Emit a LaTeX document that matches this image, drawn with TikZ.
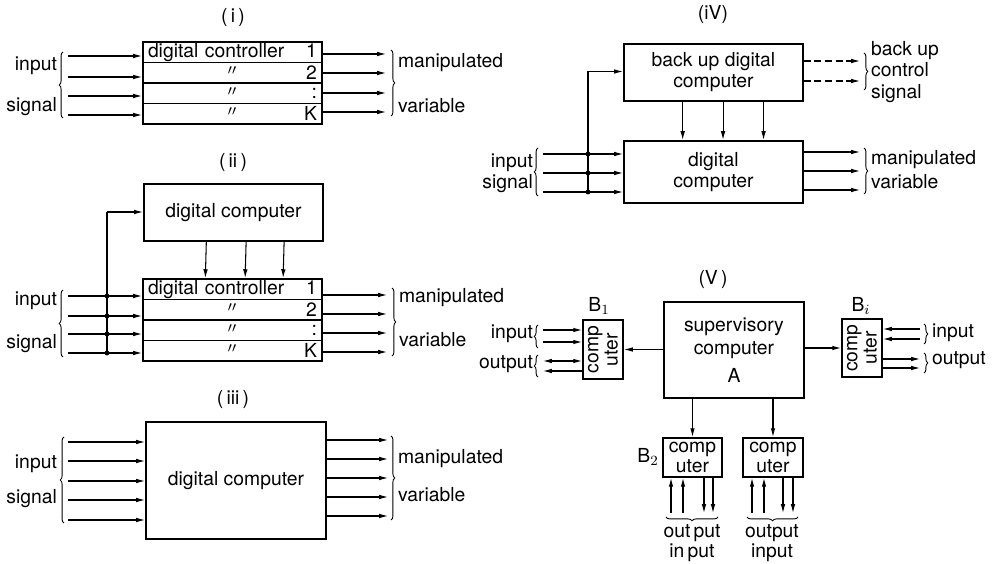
\documentclass[tikz,border=0pt]{standalone}
\usepackage{fontspec}
\setmainfont{TeX Gyre Heros}
\usetikzlibrary{arrows.meta, positioning, fit, calc, decorations.pathreplacing}

\begin{document}
\begin{tikzpicture}[
    x=0.02cm,
    y=-0.02cm,
    font=\fontsize{11}{13}\selectfont,
    quadro/.style={
        draw,
        line width=1.1pt,
        inner sep=0pt,
        align=center
    },
    linha/.style={
        draw,
        line width=0.6pt,
        outer sep=0pt,
        minimum width=3.58cm,
        minimum height=0.41cm,
        text width=3.38cm,
        inner xsep=0.1cm,
        inner ysep=0pt
    },
    seta/.style={
        line width=0.6pt,
        -{Latex[length=5pt, width=2.6pt]}
    },
    setavolta/.style={
        line width=0.6pt,
        {Latex[length=5pt, width=2.6pt]}-
    },
    setadupla/.style={
        line width=0.6pt,
        {Latex[length=5pt, width=2.6pt]}-{Latex[length=5pt, width=2.6pt]}
    },
    tracejada/.style={
        seta,
        dash pattern=on 4pt off 2pt
    },
    fio/.style={
        line width=0.6pt
    },
    chave/.style={
        decorate,
        decoration={brace, amplitude=2.2pt},
        line width=0.5pt
    },
    rotulo/.style={
        inner sep=1pt
    },
    aspas/.style={
        inner sep=0pt,
        yshift=-1pt
    }
]

\useasboundingbox (0,0) rectangle (992,564);

% ---------------- (i) ----------------

\node[rotulo] (tituloA) at (233,18) {(\,i\,)};

\node[
    linha,
    anchor=north west
] (a1) at (143,42)
{digital controller\hfill 1};
\node[linha, below=0pt of a1] (a2) {\hspace*{\fill}2};
\node[linha, below=0pt of a2] (a3) {\hspace*{\fill}:};
\node[linha, below=0pt of a3] (a4) {\hspace*{\fill}K};
\node[quadro, fit=(a1)(a4)] (ctrlA) {};
\foreach \r in {2,3,4}
    \node[aspas] at (a\r.center) {$''$};

\foreach \y [count=\i] in {56,77,96,115} {
    \coordinate (ea\i) at (68,\y);
    \draw[seta] (ea\i) -- (ea\i -| ctrlA.west);
}
\foreach \y [count=\i] in {54,73,93,112} {
    \coordinate (sa\i) at (386,\y);
    \draw[seta] (sa\i -| ctrlA.east) -- (sa\i);
}

\draw[chave] (63,118) -- (63,52);
\draw[chave] (391,50) -- (391,116);
\node[rotulo, anchor=east] (inA) at (59,66) {input};
\node[rotulo, anchor=east] (sigA) at (59,107) {signal};
\node[rotulo, anchor=west] (manA) at (396,63) {manipulated};
\node[rotulo, anchor=west] (varA) at (396,106) {variable};

% ---------------- (ii) ----------------

\node[rotulo] (tituloB) at (233,163) {(\,ii\,)};

\node[
    quadro,
    minimum width=3.58cm,
    minimum height=1.14cm,
    anchor=north west
] (dcB) at (143,183)
{digital computer};

\node[
    linha,
    anchor=north west
] (b1) at (143,279)
{digital controller\hfill 1};
\node[linha, below=0pt of b1] (b2) {\hspace*{\fill}2};
\node[linha, below=0pt of b2] (b3) {\hspace*{\fill}:};
\node[linha, below=0pt of b3] (b4) {\hspace*{\fill}K};
\node[quadro, fit=(b1)(b4)] (ctrlB) {};
\foreach \r in {2,3,4}
    \node[aspas] at (b\r.center) {$''$};

\foreach \f in {0.35,0.57,0.78}
    \draw[seta] ($(dcB.south west)!\f!(dcB.south east)$) -- ($(ctrlB.north west)!\f!(ctrlB.north east)$);

\coordinate (fb) at (107,212);
\draw[seta] (fb) -- (fb -| dcB.west);
\foreach \y [count=\i] in {296,316,334,353} {
    \coordinate (eb\i) at (68,\y);
    \coordinate (pb\i) at (107,\y);
    \draw[seta] (eb\i) -- (eb\i -| ctrlB.west);
    \fill (pb\i) circle (1.4pt);
}
\draw[fio] (fb) -- (pb4);
\foreach \y [count=\i] in {295,314,333,352} {
    \coordinate (sb\i) at (387,\y);
    \draw[seta] (sb\i -| ctrlB.east) -- (sb\i);
}

\draw[chave] (63,357) -- (63,290);
\draw[chave] (392,288) -- (392,356);
\node[rotulo, anchor=east] (inB) at (59,301) {input};
\node[rotulo, anchor=east] (sigB) at (59,344) {signal};
\node[rotulo, anchor=west] (manB) at (397,298) {manipulated};
\node[rotulo, anchor=west] (varB) at (397,340) {variable};

% ---------------- (iii) ----------------

\node[rotulo] (tituloC) at (233,400) {(\,iii\,)};

\node[
    quadro,
    minimum width=3.6cm,
    minimum height=2.34cm,
    anchor=north west
] (dcC) at (145,421)
{digital computer};

\foreach \y [count=\i] in {442,461,481,500,520} {
    \coordinate (ec\i) at (68,\y);
    \draw[seta] (ec\i) -- (ec\i -| dcC.west);
}
\foreach \y [count=\i] in {440,459,478,497,516} {
    \coordinate (sc\i) at (388,\y);
    \draw[seta] (sc\i -| dcC.east) -- (sc\i);
}

\draw[chave] (64,523) -- (64,437);
\draw[chave] (391,436) -- (391,520);
\node[rotulo, anchor=east] (inC) at (59,464) {input};
\node[rotulo, anchor=east] (sigC) at (59,499) {signal};
\node[rotulo, anchor=west] (manC) at (396,459) {manipulated};
\node[rotulo, anchor=west] (varC) at (396,495) {variable};

% ---------------- (iV) ----------------

\node[rotulo] (tituloD) at (713,15) {(iV)};

\node[
    quadro,
    minimum width=3.58cm,
    minimum height=1.14cm,
    font=\fontsize{11}{12}\selectfont,
    anchor=north west
] (bkD) at (623,43)
{back up digital\\computer};

\node[
    quadro,
    minimum width=3.58cm,
    minimum height=1.24cm,
    font=\fontsize{11}{12}\selectfont,
    anchor=north west
] (dcD) at (623,140)
{digital\\computer};

\foreach \f in {0.33,0.553,0.777}
    \draw[seta] ($(bkD.south west)!\f!(bkD.south east)$) -- ($(dcD.north west)!\f!(dcD.north east)$);

\coordinate (fd) at (588,71.5);
\draw[seta] (fd) -- (fd -| bkD.west);
\foreach \y [count=\i] in {154,173,192} {
    \coordinate (ed\i) at (543,\y);
    \coordinate (pd\i) at (588,\y);
    \draw[seta] (ed\i) -- (ed\i -| dcD.west);
    \fill (pd\i) circle (1.4pt);
}
\draw[fio] (fd) -- (pd3);
\foreach \y [count=\i] in {152,171,190} {
    \coordinate (sd\i) at (860,\y);
    \draw[seta] (sd\i -| dcD.east) -- (sd\i);
}
\foreach \y [count=\i] in {61,81} {
    \coordinate (td\i) at (860,\y);
    \draw[tracejada] (td\i -| bkD.east) -- (td\i);
}

\draw[chave] (538,196) -- (538,148);
\draw[chave] (864,148) -- (864,194);
\draw[chave] (864,53) -- (864,90);
\node[rotulo, anchor=east] (inD) at (535,163) {input};
\node[rotulo, anchor=east] (sigD) at (535,184) {signal};
\node[rotulo, anchor=west] (manD) at (869,160) {manipulated};
\node[rotulo, anchor=west] (varD) at (869,182) {variable};
\node[
    rotulo,
    anchor=west,
    align=left,
    font=\fontsize{11}{12}\selectfont
] (bkcD) at (869,72)
{back up\\control\\signal};

% ---------------- (V) ----------------

\node[rotulo] (tituloE) at (713,280) {(V\,)};

\node[
    quadro,
    minimum width=2.8cm,
    minimum height=1.92cm,
    anchor=north west
] (sup) at (663,301)
{supervisory\\computer\\[3pt]A};

% rotated boxes: north = left side, south = right side
\node[
    quadro,
    rotate=90,
    minimum width=1.18cm,
    minimum height=0.8cm,
    font=\fontsize{11}{11}\selectfont
] (B1) at (603,349.5)
{comp\\uter};
\node[rotulo] (labB1) at (599,306) {B$_1$};

\node[
    quadro,
    rotate=90,
    minimum width=1.16cm,
    minimum height=0.8cm,
    font=\fontsize{11}{11}\selectfont
] (Bi) at (862,348)
{comp\\uter};
\node[rotulo] (labBi) at (861,306) {B$_i$};

\node[
    quadro,
    minimum width=1.18cm,
    minimum height=0.78cm,
    font=\fontsize{11}{11}\selectfont
] (B2) at (692.5,457.5)
{comp\\uter};
\node[rotulo] (labB2) at (648,457) {B$_2$};

\node[
    quadro,
    minimum width=1.2cm,
    minimum height=0.78cm,
    font=\fontsize{11}{11}\selectfont
] (B3) at (773,457.5)
{comp\\uter};

\draw[seta] (sup.west |- B1.south) -- (B1.south);
\draw[seta] (sup.east |- Bi.north) -- (Bi.north);
\draw[seta] (B2.north |- sup.south) -- (B2.north);
\draw[seta] (B3.north |- sup.south) -- (B3.north);

% B1
\coordinate (e1a) at (543,330);
\coordinate (e1b) at (543,342);
\coordinate (s1a) at (543,361);
\coordinate (s1b) at (543,371);
\draw[seta] (e1a) -- (e1a -| B1.north);
\draw[seta] (e1b) -- (e1b -| B1.north);
\draw[setadupla] (s1a) -- (s1a -| B1.north);
\draw[setavolta] (s1b) -- (s1b -| B1.north);
\draw[chave] (538,348) -- (538,325);
\draw[chave] (538,377) -- (538,355);
\node[rotulo, anchor=east] (inE1) at (535,334) {input};
\node[rotulo, anchor=east] (outE1) at (535,364) {output};

% Bi
\foreach \y [count=\i] in {329,339} {
    \coordinate (eiE\i) at (920,\y);
    \draw[seta] (eiE\i) -- (eiE\i -| Bi.south);
}
\foreach \y [count=\i] in {359,368} {
    \coordinate (siE\i) at (920,\y);
    \draw[seta] (siE\i -| Bi.south) -- (siE\i);
}
\draw[chave] (924,324) -- (924,344);
\draw[chave] (924,353) -- (924,373);
\node[rotulo, anchor=west] (inEi) at (930,333) {input};
\node[rotulo, anchor=west] (outEi) at (930,360) {output};

% B2 e B3
\foreach \x [count=\i] in {671,683} {
    \coordinate (u2\i) at (\x,513);
    \draw[seta] (u2\i) -- (u2\i |- B2.south);
}
\foreach \x [count=\i] in {704,713} {
    \coordinate (d2\i) at (\x,513);
    \draw[seta] (d2\i |- B2.south) -- (d2\i);
}
\foreach \x [count=\i] in {752,764} {
    \coordinate (u3\i) at (\x,513);
    \draw[seta] (u3\i) -- (u3\i |- B3.south);
}
\foreach \x [count=\i] in {783,793} {
    \coordinate (d3\i) at (\x,513);
    \draw[seta] (d3\i |- B3.south) -- (d3\i);
}
\draw[chave] (718,517) -- (666,517);
\draw[chave] (798,517) -- (747,517);
\node[
    rotulo,
    align=center,
    font=\fontsize{11}{11.5}\selectfont
] (ioB2) at (692,543)
{out\,put\\in\,put};
\node[
    rotulo,
    align=center,
    font=\fontsize{11}{11.5}\selectfont
] (ioB3) at (772,543)
{output\\input};

\end{tikzpicture}
\end{document}
